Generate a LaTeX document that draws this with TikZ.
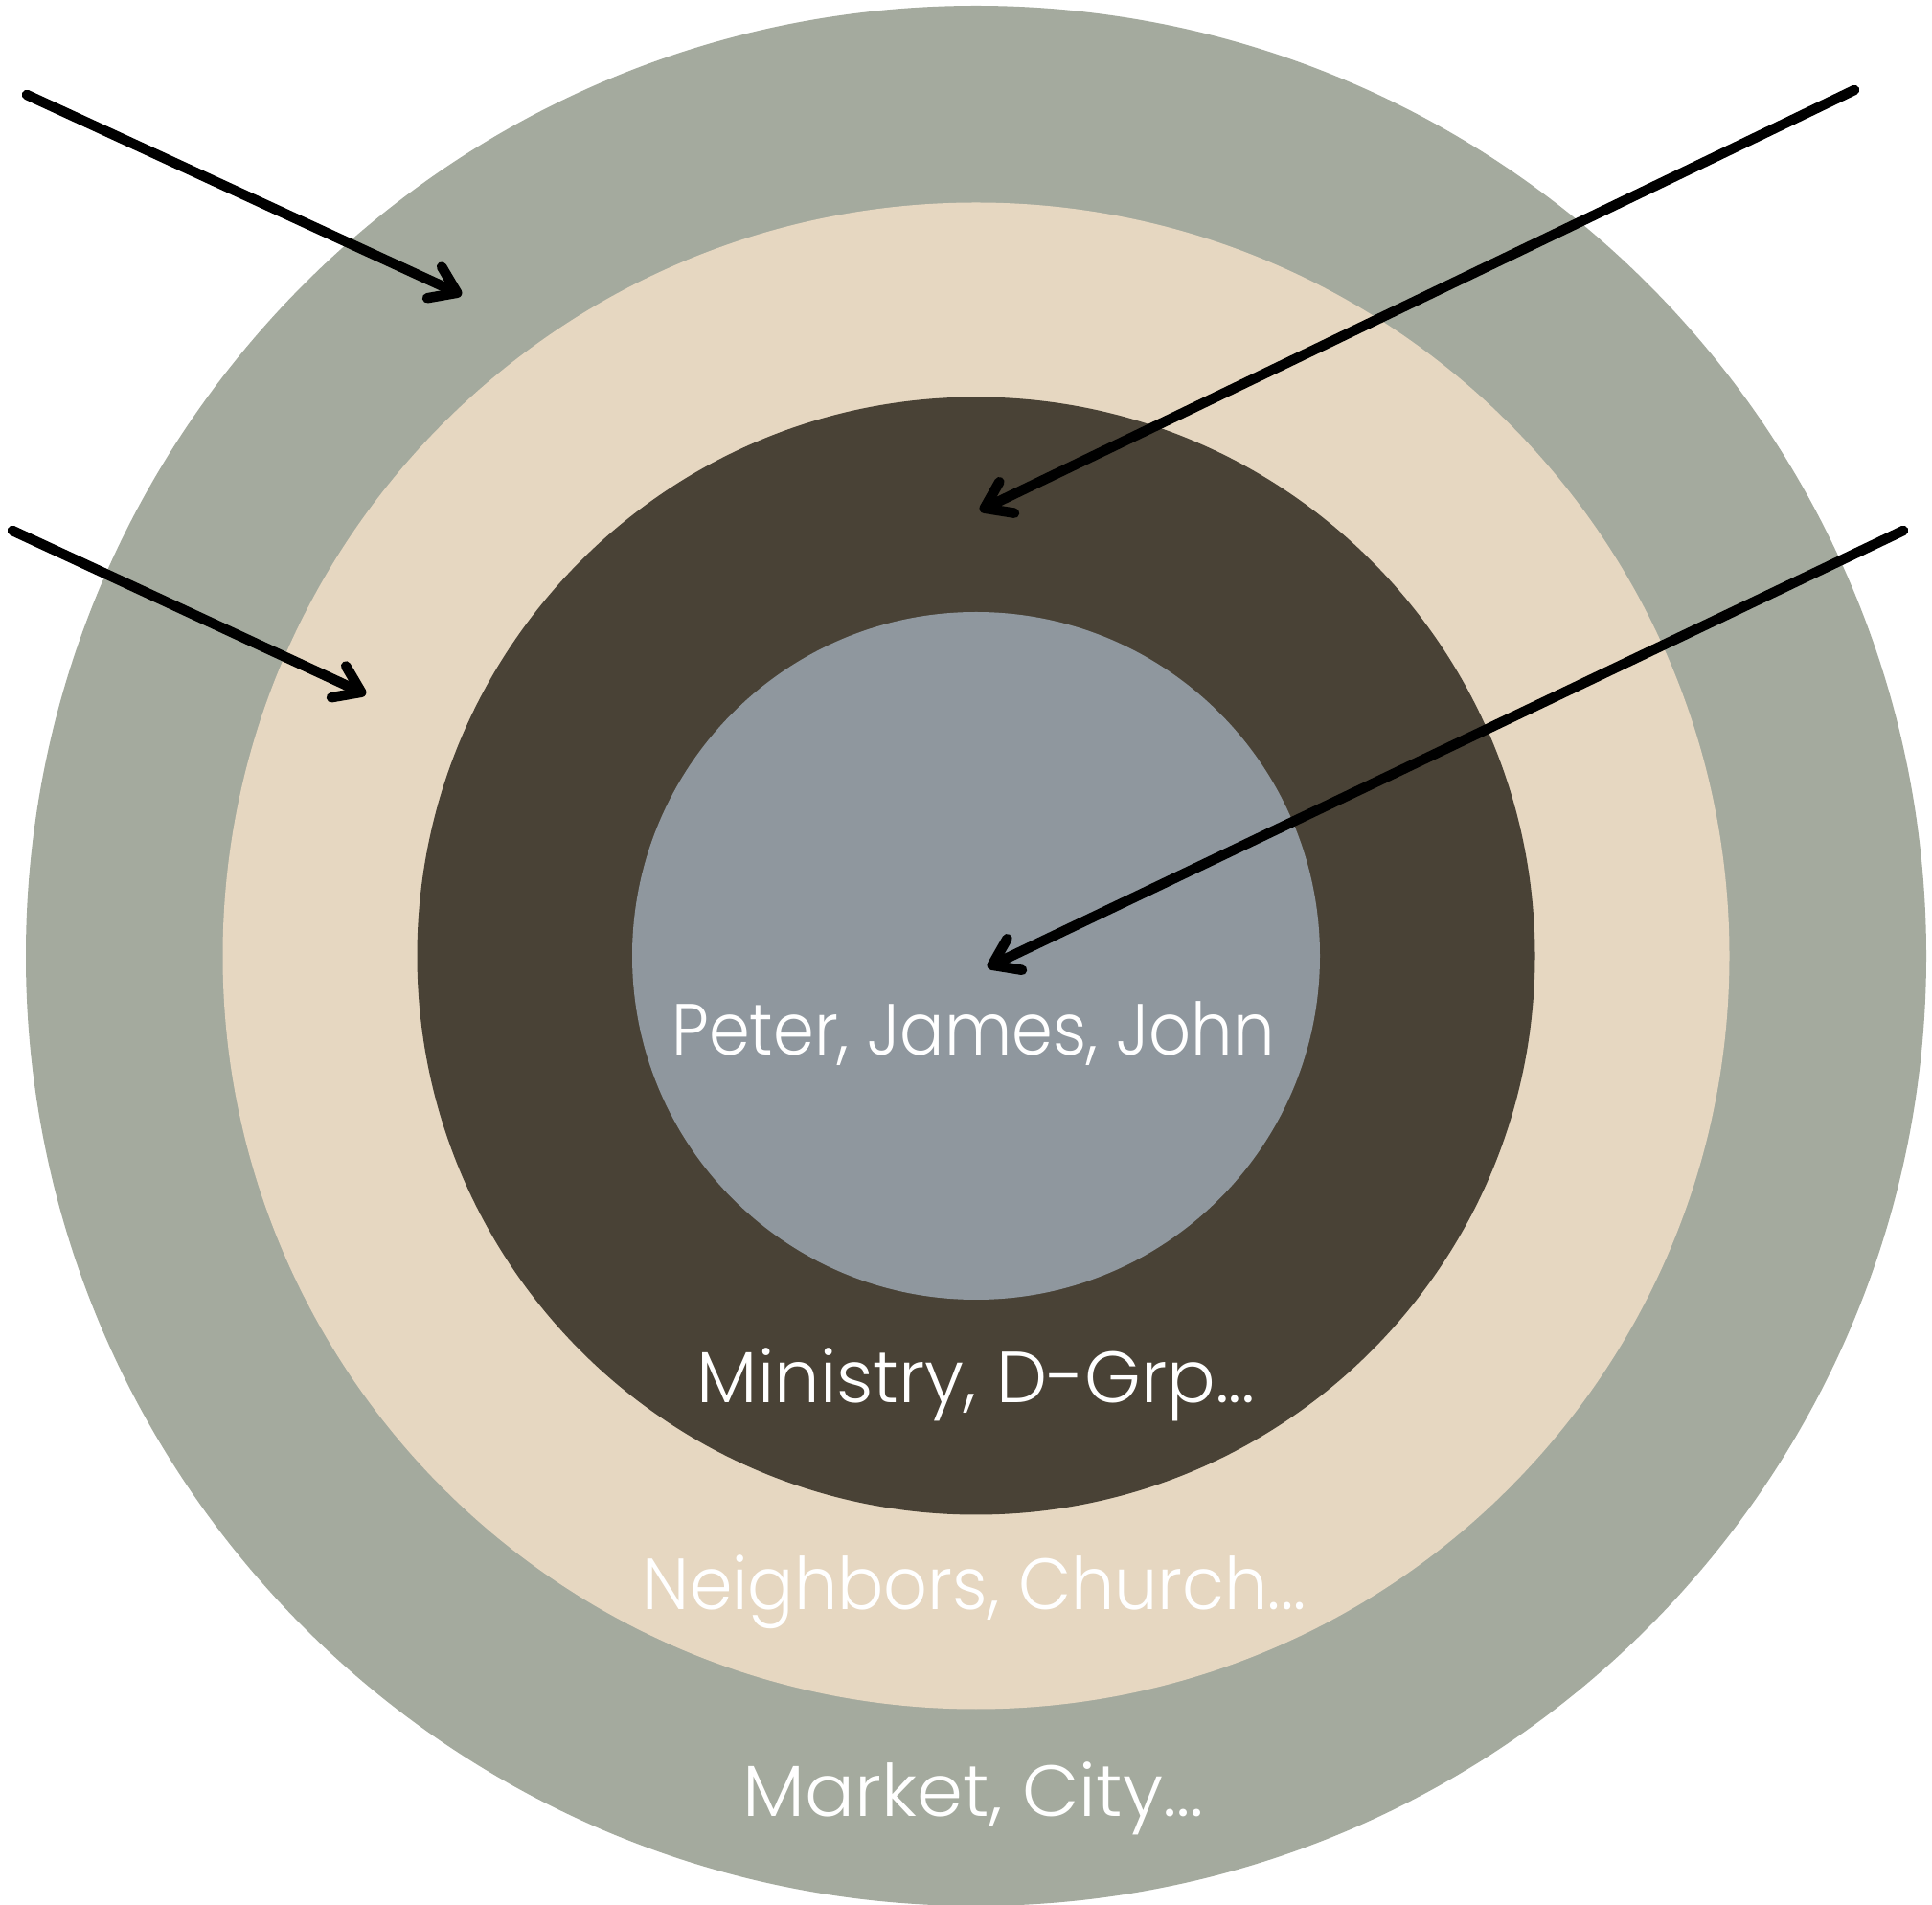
\documentclass[tikz,border=0pt]{standalone}
\usepackage{fontspec}
\setmainfont{Poppins}[UprightFont=* Light]
\usetikzlibrary{arrows.meta}
\definecolor{outerc}{HTML}{A4AA9E}
\definecolor{beigec}{HTML}{E6D7C1}
\definecolor{darkc}{HTML}{494236}
\definecolor{innerc}{HTML}{8F979E}
\tikzset{
  ring/.style={circle,inner sep=0pt,outer sep=0pt,draw=none},
  lbl/.style={text=white,font=\fontsize{21.5}{26}\selectfont,inner sep=0pt,anchor=base,transform shape},
  arr/.style={line width=3pt,line cap=round,-{Straight Barb[length=0.26cm,width=0.36cm,line cap=round,line join=round]}}
}
\begin{document}
\begin{tikzpicture}
\useasboundingbox[fill=white] (0,0) rectangle (20.17,19.88);
\coordinate (c) at (10.19,9.90);
\node[ring,fill=outerc,minimum size=19.84cm] (outer) at (c) {};
\node[ring,fill=beigec,minimum size=15.73cm] (beige) at (c) {};
\node[ring,fill=darkc,minimum size=11.67cm] (dark) at (c) {};
\node[ring,fill=innerc,minimum size=7.18cm] (inner) at (c) {};
\node[lbl,xscale=0.91] (t1) at (10.16,8.86) {Peter, James, John};
\node[lbl,xscale=0.995] (t2) at (10.19,5.23) {Ministry, D-Grp...};
\node[lbl,xscale=0.947] (t3) at (10.17,3.07) {Neighbors, Church...};
\node[lbl,xscale=1.02] (t4) at (10.16,0.92) {Market, City...};
\coordinate (s1) at (0.28,18.89);
\coordinate (e1) at (4.82,16.80);
\coordinate (s2) at (19.36,18.94);
\coordinate (e2) at (10.23,14.55);
\coordinate (s3) at (0.13,14.34);
\coordinate (e3) at (3.82,12.63);
\coordinate (s4) at (19.87,14.34);
\coordinate (e4) at (10.31,9.78);
\draw[arr] (s1) -- (e1);
\draw[arr] (s2) -- (e2);
\draw[arr] (s3) -- (e3);
\draw[arr] (s4) -- (e4);
\end{tikzpicture}
\end{document}
